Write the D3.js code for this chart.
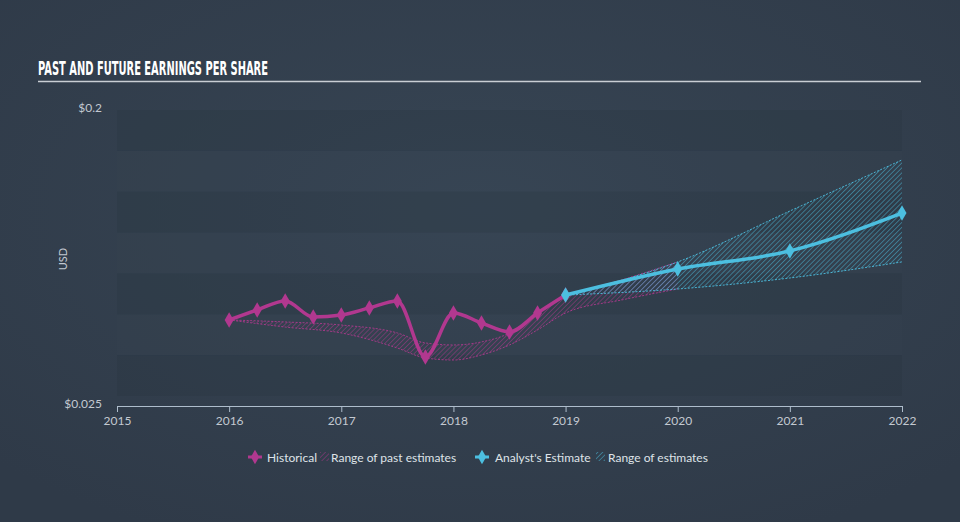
<!DOCTYPE html>
<html><head><meta charset="utf-8">
<script src="https://cdn.jsdelivr.net/npm/d3@7"></script>
<style>
html,body{margin:0;padding:0;background:#333f4e;}
svg{display:block;}
</style></head>
<body>
<svg id="c" width="960" height="522"></svg>
<script>
const title = "PAST AND FUTURE EARNINGS PER SHARE";
const yTickValues = [0.025, 0.2];
const yTickLabels = ["$0.025", "$0.2"];
const xTickYears = [2015, 2016, 2017, 2018, 2019, 2020, 2021, 2022];

const histDates = [2016, 2016.25, 2016.5, 2016.75, 2017, 2017.25, 2017.5, 2017.75, 2018, 2018.25, 2018.5, 2018.75, 2019];
const histValues = [0.0747, 0.0806, 0.0859, 0.0764, 0.0776, 0.0818, 0.0859, 0.0528, 0.0788, 0.0729, 0.0676, 0.0788, 0.0894];

const pastRangeDates = [2016, 2016.5, 2017, 2017.5, 2017.75, 2018, 2018.25, 2018.5, 2018.75, 2019, 2019.5, 2020];
const pastRangeHigh = [0.0747, 0.0735, 0.0717, 0.0670, 0.0611, 0.0599, 0.0617, 0.0670, 0.0788, 0.0883, 0.0983, 0.1090];
const pastRangeLow = [0.0747, 0.0705, 0.0670, 0.0581, 0.0522, 0.0510, 0.0540, 0.0599, 0.0688, 0.0788, 0.0865, 0.0930];

const estDates = [2019, 2020, 2021, 2022];
const estValues = [0.0894, 0.1048, 0.1155, 0.1379];
const estHigh = [0.0894, 0.1090, 0.1391, 0.1693];
const estLow = [0.0894, 0.0930, 0.0995, 0.1090];

const legendItems = ["Historical", "Range of past estimates", "Analyst's Estimate", "Range of estimates"];

const MAG = "#b1388f", CYAN = "#4cbfe0";
const svg = d3.select("#c");
const defs = svg.append("defs");

const grad = defs.append("radialGradient").attr("id","bg").attr("cx","50%").attr("cy","40%").attr("r","70%");
grad.append("stop").attr("offset","0%").attr("stop-color","#374554");
grad.append("stop").attr("offset","100%").attr("stop-color","#2f3a48");
svg.append("rect").attr("width",960).attr("height",522).attr("fill","url(#bg)");

function hatch(id, color){
  const p = defs.append("pattern").attr("id",id).attr("patternUnits","userSpaceOnUse")
    .attr("width",3.5).attr("height",3.5).attr("patternTransform","rotate(45)");
  p.append("line").attr("x1",0).attr("y1",0).attr("x2",0).attr("y2",3.5)
    .attr("stroke",color).attr("stroke-width",1.1).attr("stroke-opacity",0.8);
}
hatch("hm", MAG); hatch("hc", CYAN);

const x = d3.scaleLinear().domain([2015, 2022]).range([117, 902]);
const y = d3.scaleLinear().domain([0.025, 0.2]).range([404, 108]);

// title
svg.append("text").attr("x",38).attr("y",75).text(title)
  .attr("fill","#ffffff").attr("font-family","'Liberation Sans Narrow','DejaVu Sans Condensed',sans-serif")
  .attr("font-weight","bold").attr("font-size",19)
  .attr("textLength",230).attr("lengthAdjust","spacingAndGlyphs");
svg.append("line").attr("x1",38).attr("x2",921).attr("y1",81.5).attr("y2",81.5)
  .attr("stroke","#c9ced4").attr("stroke-width",1.3);

// bands
const nb = 7, bandTop = 110, bandBot = 396, bh = (bandBot-bandTop)/nb;
for (let i=0;i<nb;i++){
  svg.append("rect").attr("x",117).attr("width",785).attr("y",bandTop+i*bh).attr("height",bh)
    .attr("fill", i%2===0 ? "#26303c" : "#3a4857").attr("fill-opacity", i%2===0 ? 0.22 : 0.08);
}

// y axis labels
svg.selectAll(".yt").data(yTickValues).enter().append("text")
  .attr("x",102).attr("y",d=>y(d)+4).attr("text-anchor","end")
  .attr("fill","#c3c9d1").attr("font-family","Lato, 'Open Sans', sans-serif").attr("font-size",12)
  .text((d,i)=>yTickLabels[i]);
svg.append("text").attr("transform","translate(67,259) rotate(-90)").attr("text-anchor","middle")
  .attr("fill","#c3c9d1").attr("font-family","Lato, 'Open Sans', sans-serif").attr("font-size",11).text("USD");

// x axis
const xAxis = d3.axisBottom(x).tickValues(xTickYears).tickFormat(d3.format("d")).tickSize(6).tickSizeOuter(0).tickPadding(4);
const gx = svg.append("g").attr("transform","translate(0,406)").call(xAxis);
gx.select(".domain").attr("stroke","#aebdcc").attr("stroke-width",1);
gx.selectAll(".tick line").attr("stroke","#aebdcc");
gx.selectAll(".tick text").attr("fill","#c3c9d1").attr("font-family","Lato, 'Open Sans', sans-serif").attr("font-size",12);

// past range
const pr = pastRangeDates.map((d,i)=>({d, h:pastRangeHigh[i], l:pastRangeLow[i]}));
const areaP = d3.area().x(p=>x(p.d)).y0(p=>y(p.l)).y1(p=>y(p.h)).curve(d3.curveMonotoneX);
svg.append("path").attr("d",areaP(pr)).attr("fill","url(#hm)");
["h","l"].forEach(k=>{
  svg.append("path").attr("d",d3.line().x(p=>x(p.d)).y(p=>y(p[k])).curve(d3.curveMonotoneX)(pr))
    .attr("fill","none").attr("stroke",MAG).attr("stroke-width",1).attr("stroke-dasharray","2,1.5").attr("stroke-opacity",0.85);
});

// estimate range
const er = estDates.map((d,i)=>({d, h:estHigh[i], l:estLow[i]}));
const areaE = d3.area().x(p=>x(p.d)).y0(p=>y(p.l)).y1(p=>y(p.h)).curve(d3.curveMonotoneX);
svg.append("path").attr("d",areaE(er)).attr("fill","url(#hc)");
["h","l"].forEach(k=>{
  svg.append("path").attr("d",d3.line().x(p=>x(p.d)).y(p=>y(p[k])).curve(d3.curveMonotoneX)(er))
    .attr("fill","none").attr("stroke",CYAN).attr("stroke-width",1).attr("stroke-dasharray","2,1.5").attr("stroke-opacity",0.9);
});

// historical line
const hist = histDates.map((d,i)=>({d, v:histValues[i]}));
svg.append("path").attr("d",d3.line().x(p=>x(p.d)).y(p=>y(p.v)).curve(d3.curveMonotoneX)(hist))
  .attr("fill","none").attr("stroke",MAG).attr("stroke-width",3.5).attr("stroke-linejoin","round");
const diamond = d3.symbol().type(d3.symbolDiamond).size(70);
svg.selectAll(".hm").data(hist).enter().append("path").attr("d",diamond)
  .attr("transform",p=>`translate(${x(p.d)},${y(p.v)})`).attr("fill",MAG);

// estimate line
const est = estDates.map((d,i)=>({d, v:estValues[i]}));
svg.append("path").attr("d",d3.line().x(p=>x(p.d)).y(p=>y(p.v)).curve(d3.curveMonotoneX)(est))
  .attr("fill","none").attr("stroke",CYAN).attr("stroke-width",3.5).attr("stroke-linejoin","round");
svg.selectAll(".em").data(est).enter().append("path").attr("d",diamond)
  .attr("transform",p=>`translate(${x(p.d)},${y(p.v)})`).attr("fill",CYAN);

// legend
const lg = svg.append("g").attr("font-family","Lato, 'Open Sans', sans-serif").attr("font-size",12).attr("fill","#dfe3e8");
function legMarker(cx, color){
  lg.append("line").attr("x1",cx-7).attr("x2",cx+7).attr("y1",457).attr("y2",457).attr("stroke",color).attr("stroke-width",3);
  lg.append("path").attr("d",d3.symbol().type(d3.symbolDiamond).size(60)).attr("transform",`translate(${cx},457)`).attr("fill",color);
}
function legHatch(x0, id){
  lg.append("rect").attr("x",x0).attr("y",452).attr("width",9).attr("height",9).attr("fill",`url(#${id})`);
}
legMarker(255, MAG);
lg.append("text").attr("x",267).attr("y",461.5).text(legendItems[0]);
legHatch(320, "hm");
lg.append("text").attr("x",331).attr("y",461.5).text(legendItems[1]);
legMarker(482, CYAN);
lg.append("text").attr("x",495).attr("y",461.5).text(legendItems[2]);
legHatch(596, "hc");
lg.append("text").attr("x",608).attr("y",461.5).text(legendItems[3]);
</script>
</body></html>
